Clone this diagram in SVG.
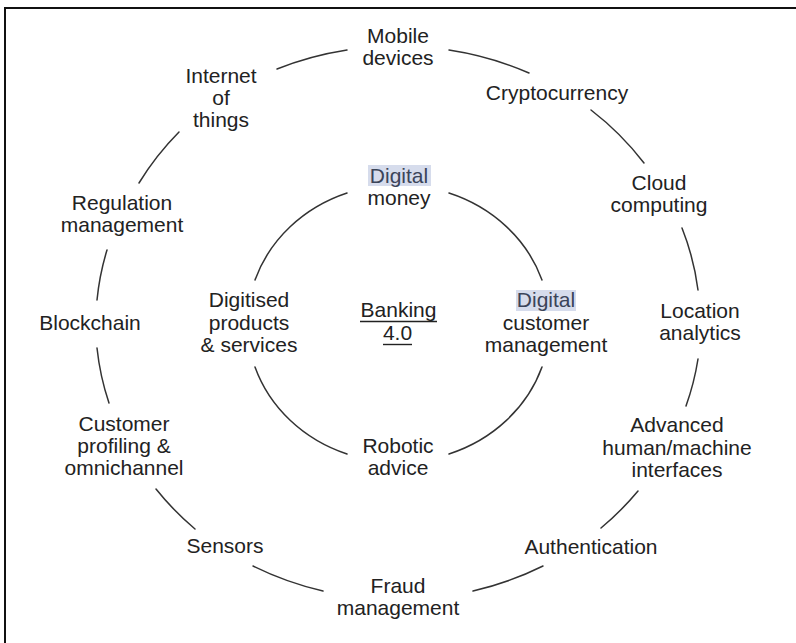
<svg xmlns="http://www.w3.org/2000/svg" width="796" height="643" viewBox="0 0 796 643">
  <style>
    .lbl { font-family: "Liberation Sans", Arial, Helvetica, sans-serif; font-size: 21px; fill: #222; text-anchor: middle; }
    .hl-text { fill: #3b4459; }
    .hl { fill: #d6dcec; }
    .arc { fill: none; stroke: #333; stroke-width: 1.5; stroke-linecap: round; }
    .frame { stroke: #111; stroke-width: 2; fill: none; }
    .ul { stroke: #222; stroke-width: 1.4; }
  </style>

  <rect width="796" height="643" fill="#fff"/>
  <!-- page frame (top and left edges) -->
  <path class="frame" d="M5,643 V8 H796"/>

  <!-- arcs joining the labels -->
  <g id="connectors">
    <!-- outer ring -->
    <path class="arc" d="M277,69 A302 277 0 0 1 347,50"/>
    <path class="arc" d="M449,50 A302 277 0 0 1 529,73"/>
    <path class="arc" d="M591,110 A302 277 0 0 1 644,163"/>
    <path class="arc" d="M682,228 A302 277 0 0 1 698,290"/>
    <path class="arc" d="M698,359 A302 277 0 0 1 686,406"/>
    <path class="arc" d="M638,491 A302 277 0 0 1 601,528"/>
    <path class="arc" d="M543,566 A302 277 0 0 1 473,591"/>
    <path class="arc" d="M323,591 A302 277 0 0 1 253,566"/>
    <path class="arc" d="M195,529 A302 277 0 0 1 156,489"/>
    <path class="arc" d="M109,403 A302 277 0 0 1 97,348"/>
    <path class="arc" d="M97,300 A302 277 0 0 1 107,250"/>
    <path class="arc" d="M139,183 A302 277 0 0 1 179,132"/>
    <!-- inner ring -->
    <path class="arc" d="M449,193 A151 139 0 0 1 542,280"/>
    <path class="arc" d="M542,367 A151 139 0 0 1 449,454"/>
    <path class="arc" d="M347,454 A151 139 0 0 1 255,367"/>
    <path class="arc" d="M255,280 A151 139 0 0 1 347,193"/>
  </g>

  <!-- outer ring labels -->
  <g id="mobile-devices">
    <text class="lbl" x="398" y="43">Mobile</text>
    <text class="lbl" x="398" y="65">devices</text>
  </g>
  <g id="cryptocurrency">
    <text class="lbl" x="557" y="100">Cryptocurrency</text>
  </g>
  <g id="cloud-computing">
    <text class="lbl" x="659" y="190">Cloud</text>
    <text class="lbl" x="659" y="212">computing</text>
  </g>
  <g id="location-analytics">
    <text class="lbl" x="700" y="318">Location</text>
    <text class="lbl" x="700" y="340">analytics</text>
  </g>
  <g id="advanced-interfaces">
    <text class="lbl" x="677" y="432">Advanced</text>
    <text class="lbl" x="677" y="455">human/machine</text>
    <text class="lbl" x="677" y="477">interfaces</text>
  </g>
  <g id="authentication">
    <text class="lbl" x="591" y="554">Authentication</text>
  </g>
  <g id="fraud-management">
    <text class="lbl" x="398" y="593">Fraud</text>
    <text class="lbl" x="398" y="615">management</text>
  </g>
  <g id="sensors">
    <text class="lbl" x="225" y="553">Sensors</text>
  </g>
  <g id="customer-profiling">
    <text class="lbl" x="124" y="431">Customer</text>
    <text class="lbl" x="124" y="453">profiling &amp;</text>
    <text class="lbl" x="124" y="475">omnichannel</text>
  </g>
  <g id="blockchain">
    <text class="lbl" x="90" y="330">Blockchain</text>
  </g>
  <g id="regulation-management">
    <text class="lbl" x="122" y="210">Regulation</text>
    <text class="lbl" x="122" y="232">management</text>
  </g>
  <g id="internet-of-things">
    <text class="lbl" x="221" y="83">Internet</text>
    <text class="lbl" x="221" y="105">of</text>
    <text class="lbl" x="221" y="127">things</text>
  </g>

  <!-- inner ring labels -->
  <g id="digital-money">
    <rect class="hl" x="368" y="165" width="63" height="21"/>
    <text class="lbl hl-text" x="399" y="183">Digital</text>
    <text class="lbl" x="399" y="205">money</text>
  </g>
  <g id="digital-customer-management">
    <rect class="hl" x="516" y="290" width="60" height="21"/>
    <text class="lbl hl-text" x="546" y="307">Digital</text>
    <text class="lbl" x="546" y="330">customer</text>
    <text class="lbl" x="546" y="352">management</text>
  </g>
  <g id="robotic-advice">
    <text class="lbl" x="398" y="453">Robotic</text>
    <text class="lbl" x="398" y="475">advice</text>
  </g>
  <g id="digitised-products">
    <text class="lbl" x="249" y="307">Digitised</text>
    <text class="lbl" x="249" y="330">products</text>
    <text class="lbl" x="249" y="352">&amp; services</text>
  </g>

  <!-- centre -->
  <g id="banking-4-0">
    <text class="lbl" x="398.5" y="317">Banking</text>
    <line class="ul" x1="360" y1="321.5" x2="437" y2="321.5"/>
    <text class="lbl" x="397.5" y="340">4.0</text>
    <line class="ul" x1="383" y1="344.5" x2="412" y2="344.5"/>
  </g>
</svg>
